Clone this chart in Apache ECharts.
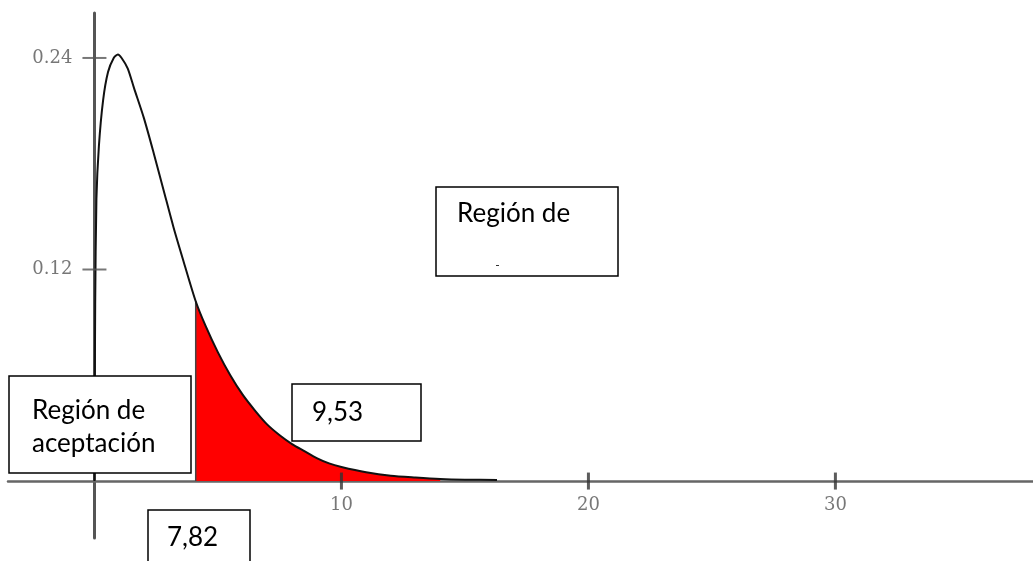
<!DOCTYPE html>
<html>
<head>
<meta charset="utf-8">
<script src="https://cdn.jsdelivr.net/npm/echarts@6/dist/echarts.min.js"></script>
<style>
html,body{margin:0;padding:0;background:#fff;}
#chart{width:1033px;height:561px;}
</style>
</head>
<body>
<div id="chart"></div>
<script>
// Density curve
const curveX = [0, 0.03, 0.08, 0.18, 0.35, 0.55, 0.78, 0.95, 1.1, 1.35, 1.6, 2.0, 2.4, 2.8, 3.2, 3.6, 4.1, 4.5, 5.0, 5.5, 6.0, 6.5, 7.0, 7.5, 8.0, 8.5, 9.0, 9.5, 10, 11, 12, 13, 14, 15, 16.3];
const curveY = [0, 0.10, 0.16, 0.19, 0.216, 0.232, 0.240, 0.242, 0.240, 0.234, 0.223, 0.206, 0.186, 0.165, 0.144, 0.125, 0.102, 0.088, 0.073, 0.060, 0.049, 0.040, 0.032, 0.026, 0.021, 0.017, 0.013, 0.010, 0.008, 0.005, 0.003, 0.002, 0.0012, 0.0008, 0.0006];
// Shaded (rejection) region bounds
const shadeStart = 4.1;
const shadeEnd = 14;
// Tick values / labels
const xTicks = [10, 20, 30];
const xTickLabels = ['10', '20', '30'];
const yTicks = [0.12, 0.24];
const yTickLabels = ['0.12', '0.24'];
// Annotation texts
const boxTexts = ['Región de', 'Región de\naceptación', '9,53', '7,82'];

const curve = curveX.map((x, i) => [x, curveY[i]]);
const shade = curve.filter(p => p[0] >= shadeStart && p[0] <= shadeEnd);
const shadeEdgeTop = shade[0][1];

const chart = echarts.init(document.getElementById('chart'), null, {renderer: 'canvas'});

const boxStyle = {fill: '#fff', stroke: '#000', lineWidth: 1.5};
const txtFont = '26px Lato';
const tickFont = {color: '#555', fontFamily: 'DejaVu Serif', fontSize: 18};

chart.setOption({
  animation: false,
  backgroundColor: '#fff',
  grid: {left: 8, right: 0, top: 13, bottom: 23, containLabel: false, outerBoundsMode: 'none'},
  xAxis: {
    type: 'value', min: -3.5, max: 38.0,
    splitLine: {show: false},
    axisLine: {onZero: true, lineStyle: {color: '#666', width: 2.5}},
    axisTick: {show: false},
    axisLabel: {show: false}
  },
  yAxis: {
    type: 'value', min: -0.0323, max: 0.2655,
    splitLine: {show: false},
    axisLine: {onZero: true, lineStyle: {color: '#555', width: 3}},
    axisTick: {show: false},
    axisLabel: {show: false}
  },
  series: [
    {
      type: 'line', data: shade, showSymbol: false, silent: true,
      lineStyle: {width: 0}, areaStyle: {color: '#ff0000', opacity: 1}, z: 2
    },
    {
      type: 'line', data: [[shadeStart, 0], [shadeStart, shadeEdgeTop]], showSymbol: false,
      lineStyle: {color: '#444', width: 1.5}, z: 3
    },
    {
      type: 'line', data: curve, showSymbol: false, smooth: 0.25,
      lineStyle: {color: '#111', width: 2}, z: 4
    },
    {
      type: 'scatter', data: xTicks.map(v => [v, 0]), symbol: 'rect', symbolSize: [3, 17],
      itemStyle: {color: '#333'}, z: 5, silent: true,
      label: {show: true, position: 'bottom', distance: 7, formatter: p => xTickLabels[p.dataIndex], ...tickFont}
    },
    {
      type: 'scatter', data: yTicks.map(v => [0, v]), symbol: 'rect', symbolSize: [24, 2],
      itemStyle: {color: '#555'}, z: 5, silent: true,
      label: {show: true, position: 'left', distance: 10, formatter: p => yTickLabels[p.dataIndex], ...tickFont}
    }
  ],
  graphic: [
    {type: 'rect', shape: {x: 436, y: 187, width: 182, height: 89}, style: boxStyle, z: 100},
    {type: 'text', x: 457, y: 214, style: {text: boxTexts[0], font: txtFont, fill: '#000', verticalAlign: 'middle'}, z: 101},
    {type: 'rect', shape: {x: 496, y: 265, width: 3, height: 1}, style: {fill: '#333'}, z: 101},
    {type: 'rect', shape: {x: 9, y: 376, width: 182, height: 97}, style: boxStyle, z: 100},
    {type: 'text', x: 32, y: 427, style: {text: boxTexts[1], font: txtFont, fill: '#000', verticalAlign: 'middle', lineHeight: 33}, z: 101},
    {type: 'rect', shape: {x: 292, y: 384, width: 129, height: 57}, style: boxStyle, z: 100},
    {type: 'text', x: 312, y: 413, style: {text: boxTexts[2], font: txtFont, fill: '#000', verticalAlign: 'middle'}, z: 101},
    {type: 'rect', shape: {x: 148, y: 510, width: 102, height: 60}, style: boxStyle, z: 100},
    {type: 'text', x: 167, y: 538, style: {text: boxTexts[3], font: txtFont, fill: '#000', verticalAlign: 'middle'}, z: 101}
  ]
});
</script>
</body>
</html>
